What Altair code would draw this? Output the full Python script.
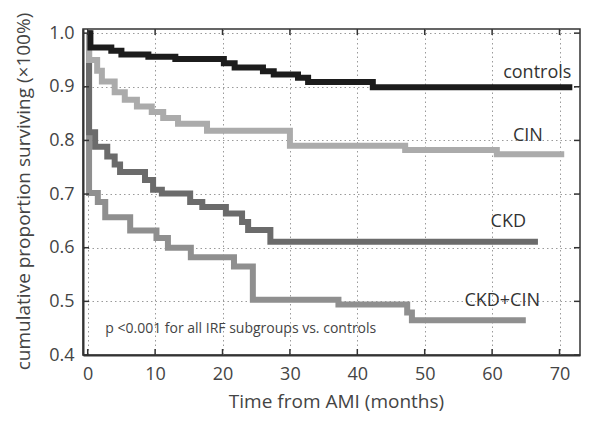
import altair as alt
import pandas as pd

# ---- data (step-after Kaplan-Meier curves) ----
controls_t = [0, 0.4, 3.5, 5.0, 9.0, 13.0, 20.2, 21.8, 26.0, 27.6, 31.2, 32.7, 42.3, 71.9]
controls_v = [1.0, 0.973, 0.967, 0.960, 0.956, 0.952, 0.944, 0.936, 0.929, 0.923, 0.917, 0.909, 0.899, 0.899]

cin_t = [0, 0.2, 1.4, 2.1, 4.0, 5.5, 7.3, 9.5, 11.2, 13.4, 17.7, 30.0, 47.1, 60.7, 70.7]
cin_v = [1.0, 0.950, 0.930, 0.910, 0.890, 0.876, 0.863, 0.853, 0.842, 0.831, 0.818, 0.790, 0.782, 0.774, 0.774]

ckd_t = [0, 0.2, 1.1, 2.9, 4.0, 4.8, 8.5, 9.7, 11.0, 15.2, 17.0, 20.5, 22.9, 23.8, 27.1, 66.8]
ckd_v = [1.0, 0.815, 0.788, 0.770, 0.755, 0.741, 0.726, 0.708, 0.701, 0.685, 0.676, 0.664, 0.648, 0.633, 0.611, 0.611]

ckdcin_t = [0, 0.2, 1.5, 2.6, 6.3, 10.2, 11.9, 15.3, 21.7, 24.5, 37.2, 47.4, 48.1, 65.0]
ckdcin_v = [1.0, 0.702, 0.685, 0.657, 0.632, 0.618, 0.600, 0.582, 0.565, 0.503, 0.494, 0.479, 0.465, 0.465]

series_names = ["CKD+CIN", "CKD", "CIN", "controls"]
series_colors = ["#8f8f8f", "#6b6b6b", "#ababab", "#1c1c1c"]

label_text = ["controls", "CIN", "CKD", "CKD+CIN"]
label_t = [66.7, 65.3, 62.4, 61.5]
label_v = [0.917, 0.799, 0.638, 0.491]

note_text = ["p <0.001 for all IRF subgroups vs. controls"]
note_t = [2.6]
note_v = [0.441]

XTICKS = [0, 10, 20, 30, 40, 50, 60, 70]
YTICKS = [0.4, 0.5, 0.6, 0.7, 0.8, 0.9, 1.0]

W, H = 497, 326
FONT = "Open Sans"

curves = {
    "controls": (controls_t, controls_v),
    "CIN": (cin_t, cin_v),
    "CKD": (ckd_t, ckd_v),
    "CKD+CIN": (ckdcin_t, ckdcin_v),
}

xscale = alt.Scale(domain=[-0.7, 73.04], nice=False, zero=False)
yscale = alt.Scale(domain=[0.4, 1.0077], nice=False, zero=False)

xaxis = alt.Axis(values=XTICKS, title="Time from AMI (months)", grid=True,
                 ticks=False, tickSize=0, labelPadding=10, labelFontSize=18,
                 titleFontSize=19, titleFontWeight="normal", titleY=52,
                 titleX=253, titleBaseline="alphabetic")
yaxis = alt.Axis(values=YTICKS, format=".1f", title="cumulative proportion surviving (×100%)",
                 grid=True, ticks=False, tickSize=0, labelPadding=9, labelFontSize=18,
                 titleFontSize=19, titleFontWeight="normal", titleX=-54, titleY=162,
                 titleAngle=-90, titleAlign="center", titleBaseline="alphabetic")

X_ENC = alt.X("t:Q", scale=xscale, axis=xaxis)
Y_ENC = alt.Y("v:Q", scale=yscale, axis=yaxis)

layers = []
for name, color in zip(series_names, series_colors):
    t, v = curves[name]
    df = pd.DataFrame({"t": t, "v": v})
    layers.append(
        alt.Chart(df).mark_line(interpolate="step-after", color=color, strokeWidth=6,
                                strokeCap="butt", strokeJoin="miter")
        .encode(x=X_ENC, y=Y_ENC)
    )

lab_df = pd.DataFrame({"t": label_t, "v": label_v, "txt": label_text})
labels = alt.Chart(lab_df).mark_text(font=FONT, fontSize=18, color="#333",
                                      align="center", baseline="alphabetic").encode(
    x=X_ENC, y=Y_ENC, text="txt:N")

note_df = pd.DataFrame({"t": note_t, "v": note_v, "txt": note_text})
note = alt.Chart(note_df).mark_text(font=FONT, fontSize=14, color="#444",
                                     align="left", baseline="alphabetic").encode(
    x=X_ENC, y=Y_ENC, text="txt:N")

xt_df = pd.DataFrame({"t": XTICKS})
yt_df = pd.DataFrame({"v": YTICKS})
tick_color = "#333"
bot = alt.Chart(xt_df).mark_rule(color=tick_color, strokeWidth=1.5).encode(
    x=X_ENC, y=alt.value(H), y2=alt.value(H - 6))
top = alt.Chart(xt_df).mark_rule(color=tick_color, strokeWidth=1.5).encode(
    x=X_ENC, y=alt.value(0), y2=alt.value(6))
left = alt.Chart(yt_df).mark_rule(color=tick_color, strokeWidth=1.5).encode(
    y=Y_ENC, x=alt.value(0), x2=alt.value(6))
right = alt.Chart(yt_df).mark_rule(color=tick_color, strokeWidth=1.5).encode(
    y=Y_ENC, x=alt.value(W - 6), x2=alt.value(W))

chart = alt.layer(*layers, labels, note, bot, top, left, right).properties(
    width=W, height=H,
    padding={"left": 75, "top": 21, "right": 2, "bottom": 60},
    autosize=alt.AutoSizeParams(type="none"),
    background="white",
).configure_view(stroke="#333", strokeWidth=1.5).configure_axis(
    labelFont=FONT, titleFont=FONT, labelColor="#444", titleColor="#444",
    domainColor="#333", domainWidth=2,
    gridColor="#9a9a9a", gridDash=[1.5, 3], gridWidth=1,
)

chart.save("out.html", embed_options={"renderer": "svg", "actions": False})
